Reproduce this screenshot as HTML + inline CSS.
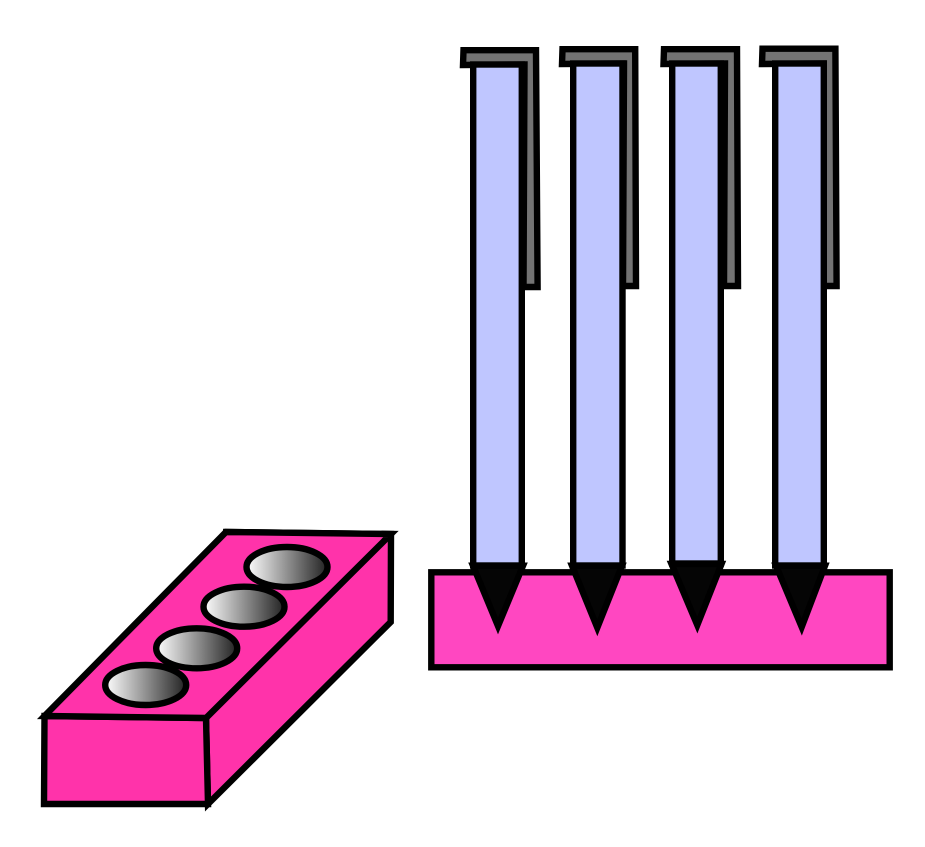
<!DOCTYPE html>
<html>
<head>
<meta charset="utf-8">
<title>Diagram</title>
<style>
html,body{margin:0;padding:0;background:#fff;width:925px;height:847px;overflow:hidden}
svg{display:block}
</style>
</head>
<body>
<svg width="925" height="847" viewBox="0 0 925 847" xmlns="http://www.w3.org/2000/svg">
<defs>
<linearGradient id="g" x1="0" y1="0" x2="1" y2="0">
<stop offset="0" stop-color="#ffffff"/>
<stop offset="1" stop-color="#222222"/>
</linearGradient>
</defs>
<g stroke="#000" stroke-width="6.4" stroke-linejoin="miter" stroke-miterlimit="12">
<!-- substrate -->
<rect x="431.3" y="572.3" width="458.4" height="95" fill="#ff47c1"/>

<!-- gray L clips -->
<g fill="#737373">
<path d="M463.5 50.2 L536 50.2 L537.6 287 L523.5 287 L524.5 64.5 L463 65 Z"/>
<path d="M562.5 49.2 L635.2 49.2 L636 286 L623 286 L624 63.5 L562 64 Z"/>
<path d="M664 49.2 L737 49.2 L738 286 L724 286 L725 63.5 L663.5 64 Z"/>
<path d="M762.5 48.7 L835.4 48.7 L836.6 286 L823.5 286 L823.5 63.5 L762 64 Z"/>
</g>

<!-- pen bodies -->
<g fill="#bfc6ff">
<rect x="473.2" y="64.5" width="48.6" height="501"/>
<rect x="573.2" y="63.5" width="49.3" height="502"/>
<rect x="672.2" y="63.5" width="48.6" height="500"/>
<rect x="775.2" y="63.5" width="48.6" height="502"/>
</g>

<!-- pen tips -->
<g fill="#050505">
<path d="M473 565.7 L523 565.7 L498 626 Z"/>
<path d="M572 565.7 L622 565.7 L597.3 627.7 Z"/>
<path d="M671.5 564 L721.5 564 L697.3 625 Z"/>
<path d="M776 565.7 L825 565.7 L801.7 627 Z"/>
</g>

<!-- brick -->
<g fill="#ff33aa">
<path d="M226 532 L391 534 L390.7 622 L208 804 L206 718 Z"/>
<path d="M44.5 716 L206 718 L208 804 L44 804 Z"/>
<path d="M44.5 716 L226 532 L391 534 L206 718 Z"/>
</g>

<!-- holes -->
<g fill="url(#g)">
<ellipse cx="145.7" cy="685" rx="40.5" ry="20"/>
<ellipse cx="196.7" cy="648.3" rx="40.5" ry="20"/>
<ellipse cx="244" cy="606.7" rx="40.5" ry="20"/>
<ellipse cx="287" cy="567" rx="40.5" ry="20"/>
</g>
</g>
</svg>
</body>
</html>
